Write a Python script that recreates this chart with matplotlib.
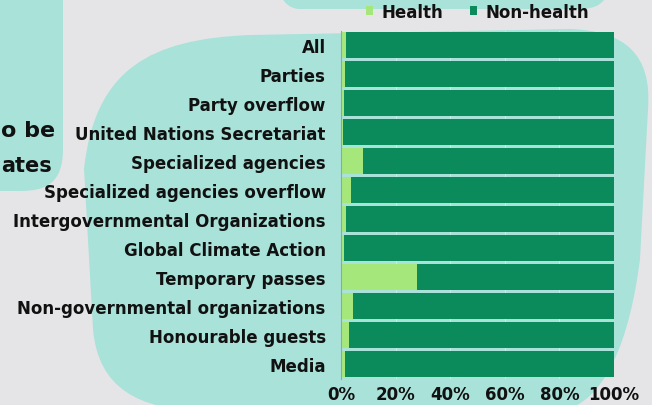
import matplotlib
matplotlib.use("Agg")
import matplotlib.pyplot as plt
from matplotlib.path import Path
from matplotlib.patches import PathPatch, Patch
import numpy as np

categories = ["All", "Parties", "Party overflow", "United Nations Secretariat",
              "Specialized agencies", "Specialized agencies overflow",
              "Intergovernmental Organizations", "Global Climate Action",
              "Temporary passes", "Non-governmental organizations",
              "Honourable guests", "Media"]
health = [2.0, 1.5, 1.0, 0.7, 8.2, 3.5, 1.8, 1.0, 28.0, 4.5, 3.0, 1.3]
non_health = [100 - h for h in health]
xticks = [0, 20, 40, 60, 80, 100]
xticklabels = ["0%", "20%", "40%", "60%", "80%", "100%"]

C_HEALTH = "#a6e77c"
C_NON = "#0b8a5c"
C_TEAL = "#a9e2d9"
C_GRAY = "#e5e5e7"
FONT = "DejaVu Sans"
FS = 12

W, H = 652, 406
fig = plt.figure(figsize=(W / 100, H / 100), dpi=100)
fig.patch.set_facecolor(C_GRAY)

# background decoration axes in pixel coords
bg = fig.add_axes([0, 0, 1, 1], zorder=0)
bg.set_xlim(0, W)
bg.set_ylim(H, 0)
bg.axis("off")

def blob(verts_codes, color):
    verts = [v for v, c in verts_codes]
    codes = [c for v, c in verts_codes]
    bg.add_patch(PathPatch(Path(verts, codes), facecolor=color, edgecolor="none"))

M, L, C4, CL = Path.MOVETO, Path.LINETO, Path.CURVE4, Path.CLOSEPOLY
# big blob behind chart
blob([((84, 170), M), ((93, 330), L),
      ((98, 390), C4), ((140, 410), C4), ((200, 412), C4),
      ((560, 412), L),
      ((605, 405), C4), ((630, 340), C4), ((640, 260), C4),
      ((648, 110), L),
      ((652, 55), C4), ((625, 32), C4), ((570, 30), C4),
      ((250, 36), L),
      ((150, 40), C4), ((95, 70), C4), ((84, 170), C4),
      ((84, 170), CL)], C_TEAL)
# left blob
blob([((-10, -10), M), ((63, -10), L), ((63, 150), L),
      ((63, 185), C4), ((45, 192), C4), ((20, 192), C4),
      ((-10, 192), L), ((-10, -10), L), ((-10, -10), CL)], C_TEAL)
# top blob
blob([((280, -10), M), ((610, -10), L),
      ((605, 5), C4), ((595, 10), C4), ((580, 10), C4),
      ((300, 10), L),
      ((288, 10), C4), ((280, 0), C4), ((280, -10), C4),
      ((280, -10), CL)], C_TEAL)

# cut-off title fragments
fig.text(1 / W, 1 - 131 / H, "o be", ha="left", va="center",
         fontsize=16, fontweight="bold", family=FONT, color="#111111")
fig.text(1 / W, 1 - 166 / H, "ates", ha="left", va="center",
         fontsize=15, fontweight="bold", family=FONT, color="#111111")

ax = fig.add_axes([341 / W, 1 - 379.5 / H, 273 / W, 348 / H], zorder=2)
ax.patch.set_alpha(0)
y = np.arange(len(categories))
ax.barh(y, health, height=0.88, color=C_HEALTH, label="Health", zorder=3)
ax.barh(y, non_health, left=health, height=0.88, color=C_NON,
        label="Non-health", zorder=3)
ax.set_xlim(0, 100)
ax.set_ylim(len(categories) - 0.5, -0.5)
ax.set_yticks(y)
ax.set_yticklabels(categories, fontsize=FS, fontweight="bold", family=FONT,
                   color="#111111")
ax.set_xticks(xticks)
ax.set_xticklabels(xticklabels, fontsize=FS, fontweight="bold", family=FONT,
                   color="#111111")
ax.tick_params(axis="both", length=0)
ax.tick_params(axis="y", pad=11)
ax.tick_params(axis="x", pad=5)
for s in ["top", "right", "bottom"]:
    ax.spines[s].set_visible(False)
ax.spines["left"].set_color("#8fa6a2")
ax.spines["left"].set_linewidth(0.8)
ax.spines["left"].set_zorder(4)
ax.grid(axis="x", color="#c3ede6", linewidth=0.8, zorder=1)
ax.set_axisbelow(True)

handles = [Patch(facecolor=C_HEALTH), Patch(facecolor=C_NON)]
leg = ax.legend(handles, ["Health", "Non-health"], loc="lower center",
                bbox_to_anchor=(0.5, 1.0), ncol=2, frameon=False,
                prop={"family": FONT, "weight": "bold", "size": FS},
                handlelength=0.45, handleheight=0.45, handletextpad=0.5,
                columnspacing=1.6, borderaxespad=0.2)
for t in leg.get_texts():
    t.set_color("#111111")

fig.savefig("out.png", dpi=100, facecolor=fig.get_facecolor())
